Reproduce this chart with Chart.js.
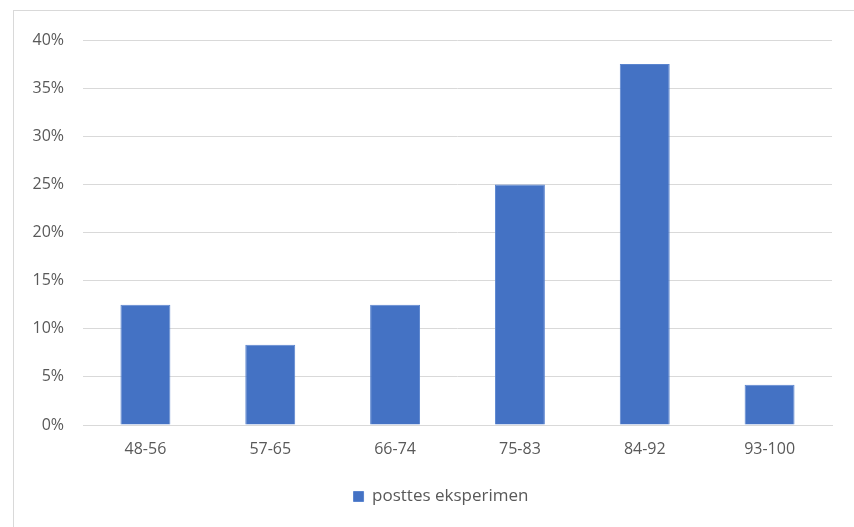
<!DOCTYPE html>
<html lang="en">
<head>
<meta charset="UTF-8">
<title>posttes eksperimen</title>
<script src="https://cdn.jsdelivr.net/npm/chart.js"></script>
<style>
    body {
        margin: 0;
        background: #ffffff;
    }
    .wrap {
        position: relative;
        width: 854px;
        height: 527px;
        overflow: hidden;
    }
    /* chart frame, runs off the right and bottom edges */
    .frame {
        position: absolute;
        left: 13px;
        top: 10px;
        width: 900px;
        height: 600px;
        border: 1px solid #d9d9d9;
    }
    canvas {
        position: absolute;
        left: 0;
        top: 0;
    }
</style>
</head>
<body>
<div class="wrap">
    <div class="frame"></div>
    <canvas id="chart" width="854" height="527"></canvas>
</div>

<script>
    // score ranges and share of students in each
    const categories = ['48-56', '57-65', '66-74', '75-83', '84-92', '93-100'];
    const posttesValues = [12.5, 8.33, 12.5, 25, 37.5, 4.17];
    const yTicks = [0, 5, 10, 15, 20, 25, 30, 35, 40];

    const textColor = '#595959';
    const gridColor = '#d9d9d9';
    const fontFamily = "'Open Sans', 'Liberation Sans', sans-serif";

    // centre the legend under the frame rather than the whole canvas
    const legendShift = {
        id: 'legendShift',
        afterLayout(chart) {
            if (chart.legend) {
                chart.legend.left += 50;
            }
        }
    };

    const ctx = document.getElementById('chart').getContext('2d');

    new Chart(ctx, {
        type: 'bar',
        data: {
            labels: categories,
            datasets: [{
                label: 'posttes eksperimen',
                data: posttesValues,
                backgroundColor: '#4472c4',
                borderColor: '#5b85cf',
                borderWidth: 1,
                barPercentage: 0.4,
                categoryPercentage: 1
            }]
        },
        options: {
            responsive: false,
            animation: false,
            layout: {
                padding: { top: 40, right: 22, left: 0, bottom: 12 }
            },
            plugins: {
                legend: {
                    display: true,
                    position: 'bottom',
                    labels: {
                        color: textColor,
                        font: { family: fontFamily, size: 17 },
                        boxWidth: 10,
                        boxHeight: 10,
                        padding: 7
                    }
                },
                tooltip: { enabled: false }
            },
            scales: {
                y: {
                    min: 0,
                    max: 40,
                    afterFit: (axis) => { axis.width = 83; },
                    afterBuildTicks: (axis) => {
                        axis.ticks = yTicks.map(v => ({ value: v }));
                    },
                    ticks: {
                        color: textColor,
                        font: { family: fontFamily, size: 16 },
                        padding: 19,
                        callback: (v) => v + '%'
                    },
                    grid: {
                        color: gridColor,
                        lineWidth: 1,
                        drawTicks: false
                    },
                    border: { display: false }
                },
                x: {
                    afterFit: (axis) => { axis.height = 56; },
                    ticks: {
                        color: textColor,
                        font: { family: fontFamily, size: 16 },
                        padding: 15
                    },
                    grid: { display: false, drawTicks: false },
                    border: { display: true, color: gridColor, width: 1 }
                }
            }
        },
        plugins: [legendShift]
    });
</script>
</body>
</html>
